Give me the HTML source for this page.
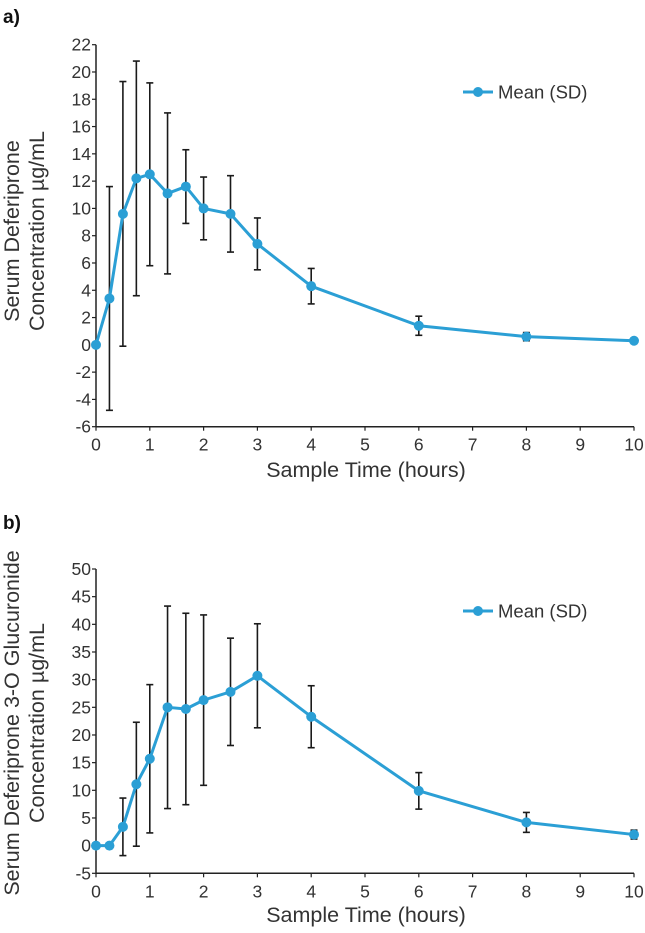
<!DOCTYPE html>
<html><head><meta charset="utf-8"><style>
html,body{margin:0;padding:0;background:#fff;}
svg{display:block;font-family:"Liberation Sans",Arial,sans-serif;}
</style></head><body>
<svg id="svg" width="645" height="933" viewBox="0 0 645 933" xmlns="http://www.w3.org/2000/svg"></svg>
<script>
const times = [0, 0.25, 0.5, 0.75, 1, 1.33, 1.67, 2, 2.5, 3, 4, 6, 8, 10];
const meanA = [0, 3.4, 9.6, 12.2, 12.5, 11.1, 11.6, 10.0, 9.6, 7.4, 4.3, 1.4, 0.6, 0.3];
const sdA = [0, 8.2, 9.7, 8.6, 6.7, 5.9, 2.7, 2.3, 2.8, 1.9, 1.3, 0.7, 0.3, 0.1];
const meanB = [0, 0, 3.4, 11.1, 15.7, 25.0, 24.7, 26.3, 27.8, 30.7, 23.3, 9.9, 4.2, 2.0];
const sdB = [0, 0, 5.2, 11.2, 13.4, 18.3, 17.3, 15.4, 9.7, 9.4, 5.6, 3.3, 1.8, 0.8];
const xTicks = [0,1,2,3,4,5,6,7,8,9,10];
const yTicksA = [-6,-4,-2,0,2,4,6,8,10,12,14,16,18,20,22];
const yTicksB = [-5,0,5,10,15,20,25,30,35,40,45,50];

const NS = "http://www.w3.org/2000/svg";
const svg = document.getElementById('svg');
const BLUE = "#2b9fd5";
function mk(tag, attrs, parent){ const e=document.createElementNS(NS,tag); for(const k in attrs) e.setAttribute(k,attrs[k]); (parent||svg).appendChild(e); return e; }

function drawChart(cfg){
  const g = mk('g',{});
  
  
  const x0=96, x1=634;
  const xs = t => x0 + (t-0)/(10-0)*(x1-x0);
  const ys = v => cfg.yBot + (v-cfg.yMin)/(cfg.yMax-cfg.yMin)*(cfg.yTop-cfg.yBot);
  const ya = mk('line',{x1:x0,y1:ys(cfg.yMax),x2:x0,y2:ys(cfg.yMin),stroke:'#222','stroke-width':1.5},g);
   
  const xa = mk('line',{x1:x0,y1:ys(cfg.yMin),x2:x1,y2:ys(cfg.yMin),stroke:'#222','stroke-width':1.5},g);
   
  cfg.yTicks.forEach(v=>{
    mk('line',{x1:x0-4,y1:ys(v),x2:x0,y2:ys(v),stroke:'#222','stroke-width':1.2},g);
    const t=mk('text',{x:x0-5,y:ys(v)+6,'text-anchor':'end','font-size':17.5,fill:'#333'},g);
    t.textContent=v;
     
  });
  xTicks.forEach(v=>{
    mk('line',{x1:xs(v),y1:ys(cfg.yMin),x2:xs(v),y2:ys(cfg.yMin)+4,stroke:'#222','stroke-width':1.2},g);
    const t=mk('text',{x:xs(v),y:ys(cfg.yMin)+24,'text-anchor':'middle','font-size':17.5,fill:'#333'},g);
    t.textContent=v;
     
  });
  cfg.mean.forEach((m,i)=>{
    const sd=cfg.sd[i]; if(sd<=0) return;
    const x=xs(times[i]);
    const eb=mk('g',{stroke:'#1a1a1a','stroke-width':1.6},g);
     
    mk('line',{x1:x,y1:ys(m+sd),x2:x,y2:ys(m-sd)},eb);
    mk('line',{x1:x-3.5,y1:ys(m+sd),x2:x+3.5,y2:ys(m+sd)},eb);
    mk('line',{x1:x-3.5,y1:ys(m-sd),x2:x+3.5,y2:ys(m-sd)},eb);
  });
  const pts = cfg.mean.map((m,i)=>xs(times[i])+','+ys(m)).join(' ');
  const pl=mk('polyline',{points:pts,fill:'none',stroke:BLUE,'stroke-width':3,'stroke-linejoin':'round'},g);
   
  cfg.mean.forEach((m,i)=>{
    const c=mk('circle',{cx:xs(times[i]),cy:ys(m),r:5,fill:BLUE},g);
     
  });
  const lg=mk('g',{},g);
   
  mk('line',{x1:463,y1:cfg.legY,x2:493,y2:cfg.legY,stroke:BLUE,'stroke-width':3},lg);
  mk('circle',{cx:478,cy:cfg.legY,r:5,fill:BLUE},lg);
  const lt=mk('text',{x:498,y:cfg.legY+6.5,'font-size':18.5,fill:'#333'},lg); lt.textContent='Mean (SD)';
  const xt=mk('text',{x:366,y:cfg.xTitleY,'text-anchor':'middle','font-size':21.5,fill:'#333'},g);
  xt.textContent='Sample Time (hours)';
   
  const yt=mk('text',{transform:`translate(0,${cfg.yTitleC}) rotate(-90)`,'text-anchor':'middle','font-size':21.5,fill:'#333'},g);
   
  const s1=mk('tspan',{x:0,y:19},yt); s1.textContent=cfg.yTitle1;
  const s2=mk('tspan',{x:0,y:44},yt); s2.textContent=cfg.yTitle2;
  const pl2=mk('text',{x:3,y:cfg.labelY,'font-size':19,'font-weight':'bold',fill:'#111'},g);
  pl2.textContent=cfg.label;
   
}

drawChart({name:'chart-a', mean:meanA, sd:sdA, yTicks:yTicksA, yMin:-6, yMax:22, yTop:44.7, yBot:426.7,
  legY:92, xTitleY:477, yTitleC:231, yTitle1:'Serum Deferiprone', yTitle2:'Concentration µg/mL', label:'a)', labelY:23});
drawChart({name:'chart-b', mean:meanB, sd:sdB, yTicks:yTicksB, yMin:-5, yMax:50, yTop:569, yBot:873.3,
  legY:611, xTitleY:922, yTitleC:723, yTitle1:'Serum Deferiprone 3-O Glucuronide', yTitle2:'Concentration µg/mL', label:'b)', labelY:529});
</script>
</body></html>
